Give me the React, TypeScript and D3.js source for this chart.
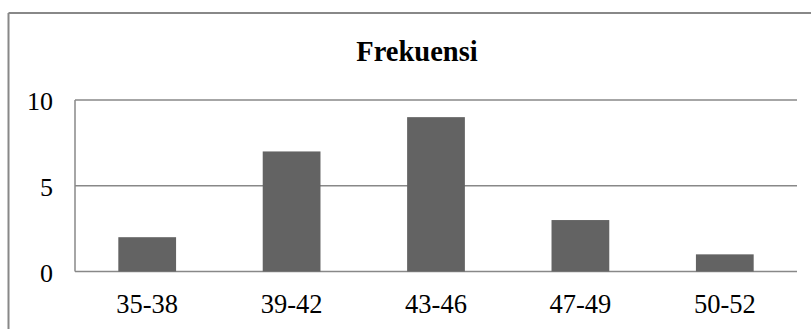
import React from "react";
import * as d3 from "d3";

const categories = ["35-38", "39-42", "43-46", "47-49", "50-52"];
const frekuensi = [2, 7, 9, 3, 1];
const yTicks = [0, 5, 10];
const title = "Frekuensi";

export default function App() {
  const W = 811, H = 329;
  const left = 75, right = 797, top = 100, bottom = 271.5;
  const x = d3.scaleBand<string>().domain(categories).range([left, right]).paddingInner(0.6).paddingOuter(0.3);
  const y = d3.scaleLinear().domain([0, 10]).range([bottom, top]);
  const font = "Liberation Serif, Times New Roman, Times, Tinos, Nimbus Roman, DejaVu Serif, serif";
  return (
    <svg width={W} height={H} style={{ position: "absolute", left: 0, top: 0, background: "#fff" }}>
      <rect x={0} y={0} width={W} height={H} fill="#fff" />
      <line x1={8.5} y1={13} x2={W} y2={13} stroke="#888" strokeWidth={2} />
      <line x1={8.5} y1={13} x2={8.5} y2={H} stroke="#888" strokeWidth={2} />
      <text x={417} y={61} textAnchor="middle" style={{ fontFamily: font }} fontWeight="bold" fontSize={28.5} fill="#000">{title}</text>
      {yTicks.map((t) => (
        <g key={t}>
          <line x1={left} x2={right} y1={y(t)} y2={y(t)} stroke="#888" strokeWidth={1.5} />
          <text x={53} y={y(t)} dy="0.4em" textAnchor="end" style={{ fontFamily: font }} fontSize={26} fill="#000">{t}</text>
        </g>
      ))}
      <line x1={left} x2={left} y1={top} y2={bottom} stroke="#888" strokeWidth={1.5} />
      {categories.map((c, i) => (
        <g key={c}>
          <rect x={x(c)} y={y(frekuensi[i])} width={x.bandwidth()} height={y(0) - y(frekuensi[i])} fill="#636363" />
          <text x={(x(c) as number) + x.bandwidth() / 2} y={312.5} textAnchor="middle" style={{ fontFamily: font }} fontSize={26.5} fill="#000">{c}</text>
        </g>
      ))}
    </svg>
  );
}
